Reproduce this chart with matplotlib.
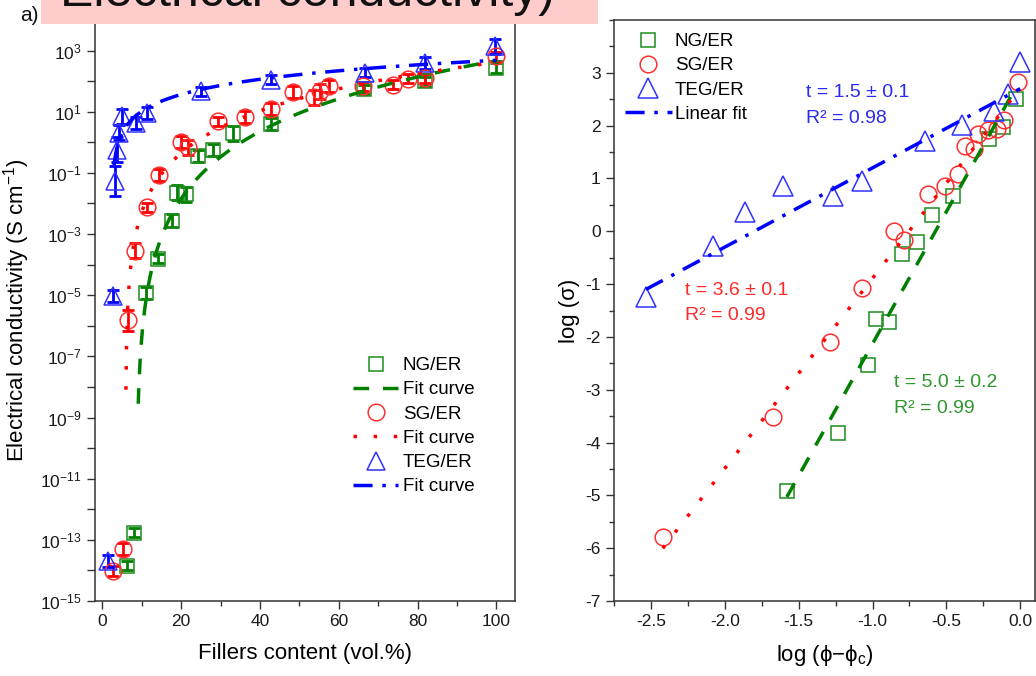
import numpy as np
import matplotlib
matplotlib.use("Agg")
import matplotlib.pyplot as plt
from matplotlib.lines import Line2D
from matplotlib.patches import Rectangle
from matplotlib.ticker import FixedLocator, MultipleLocator, NullFormatter, FuncFormatter

plt.rcParams['font.family'] = ['Liberation Sans', 'DejaVu Sans']
plt.rcParams['mathtext.fontset'] = 'custom'
plt.rcParams['mathtext.rm'] = 'Liberation Sans'
plt.rcParams['mathtext.it'] = 'Liberation Sans:italic'
plt.rcParams['mathtext.bf'] = 'Liberation Sans:bold'
plt.rcParams['axes.unicode_minus'] = False

# ---- Panel a: conductivity vs filler content (log10 of S/cm) ----
ng_phi = [6.2, 8.0, 11.1, 14.2, 17.6, 18.9, 21.2, 24.2, 28.2, 33.1, 42.8, 66.4, 81.8, 100.0]
ng_log_sigma = [-13.85, -12.76, -4.92, -3.81, -2.56, -1.65, -1.70, -0.45, -0.24, 0.29, 0.61, 1.73, 2.00, 2.43]
ng_log_err = [0.15, 0.15, 0.20, 0.15, 0.20, 0.25, 0.25, 0.20, 0.20, 0.25, 0.20, 0.15, 0.15, 0.15]

sg_phi = [2.6, 5.3, 6.6, 8.3, 11.3, 14.4, 19.9, 21.8, 29.3, 36.2, 42.7, 48.3, 53.7,
          55.2, 57.6, 66.2, 73.8, 77.6, 81.8, 100.0]
sg_log_sigma = [-14.02, -13.31, -5.82, -3.54, -2.12, -1.08, 0.02, -0.16, 0.69, 0.83, 1.09,
                1.64, 1.47, 1.67, 1.83, 1.83, 1.89, 2.08, 2.10, 2.81]
sg_log_err = [0.15, 0.20, 0.35, 0.25, 0.15, 0.20, 0.20, 0.25, 0.15, 0.20, 0.20,
              0.20, 0.25, 0.25, 0.20, 0.15, 0.15, 0.15, 0.15, 0.15]

teg_phi = [1.5, 2.6, 3.2, 3.8, 4.3, 5.0, 8.5, 11.4, 25.0, 42.8, 66.6, 81.8, 99.6]
teg_log_sigma = [-13.69, -5.03, -1.27, -0.24, 0.31, 0.85, 0.63, 0.96, 1.67, 2.05, 2.27, 2.60, 3.14]
teg_log_err = [0.20, 0.20, 0.50, 0.40, 0.25, 0.25, 0.20, 0.20, 0.15, 0.15, 0.15, 0.20, 0.25]

# Percolation fits: sigma = 10**a * (phi - phi_c)**t  (phi as volume fraction)
ng_fit = dict(phi_c=0.086, log_s0=2.87, t=5.0, start=0.0052)
sg_fit = dict(phi_c=0.059, log_s0=2.71, t=3.6, start=0.0010)
teg_fit = dict(phi_c=0.025, log_s0=2.70, t=1.5, start=0.0050)

# ---- Panel b: log-log percolation plot ----
ng_logdphi = [-1.582, -1.233, -1.033, -0.976, -0.89, -0.80, -0.697, -0.597, -0.455, -0.21, -0.12, -0.03]
ng_logs = [-4.91, -3.81, -2.53, -1.67, -1.71, -0.43, -0.21, 0.31, 0.66, 1.75, 1.98, 2.50]
sg_logdphi = [-2.42, -1.672, -1.287, -1.073, -0.856, -0.79, -0.625, -0.51, -0.42, -0.375,
              -0.31, -0.284, -0.216, -0.16, -0.11, -0.012]
sg_logs = [-5.79, -3.52, -2.09, -1.07, 0.0, -0.16, 0.71, 0.85, 1.09, 1.62, 1.56, 1.84,
           1.92, 1.94, 2.11, 2.83]
teg_logdphi = [-2.534, -2.08, -1.865, -1.604, -1.27, -1.073, -0.647, -0.391, -0.18, -0.085, 0.0]
teg_logs = [-1.25, -0.27, 0.36, 0.86, 0.66, 0.96, 1.70, 2.02, 2.27, 2.60, 3.20]

# linear fits: log sigma = intercept + t * log(phi - phi_c)
ng_line = dict(t=5.0, b=2.87, x0=-1.58, x1=-0.03)
sg_line = dict(t=3.6, b=2.71, x0=-2.42, x1=-0.012)
teg_line = dict(t=1.5, b=2.70, x0=-2.534, x1=0.0)

GREEN, RED, BLUE = '#008000', '#FF0000', '#0000FF'
MK_GREEN, MK_RED, MK_BLUE = '#1E8C1E', '#FF3030', '#3030FF'
DASH = (0, (4.5, 4.0))
DOT = (0, (1.0, 4.8))
DASHDOT = (0, (5.5, 2.8, 1.0, 2.8))
LW = 2.5

W, H = 1036, 676
fig = plt.figure(figsize=(W / 100, H / 100), dpi=100)
ax1 = fig.add_axes([95 / W, 1 - 601 / H, (515 - 95) / W, (601 - 20) / H])
ax2 = fig.add_axes([614 / W, 1 - 601 / H, (1035 - 614) / W, (601 - 20) / H])

marker_kw = dict(ls='none', mfc='none', mew=1.1)


def draw_series(ax, phi, logs, err, mk, ms, mcol, ecol):
    phi = np.asarray(phi)
    s = 10.0 ** np.asarray(logs)
    e = np.asarray(err)
    lo = s - s * 10.0 ** (-e)
    hi = s * 10.0 ** e - s
    ax.errorbar(phi, s, yerr=[lo, hi], fmt='none', ecolor=ecol, elinewidth=2.0,
                capsize=4, capthick=2.0, zorder=3)
    ax.plot(phi, s, marker=mk, ms=ms, mec=mcol, zorder=4, **marker_kw)


def draw_fit(ax, fit, col, ls):
    phi = np.linspace(fit['phi_c'] + fit['start'], 1.0, 600)
    logs = fit['log_s0'] + fit['t'] * np.log10(phi - fit['phi_c'])
    ax.plot(phi * 100, 10.0 ** logs, color=col, ls=ls, lw=LW, zorder=5)


draw_series(ax1, ng_phi, ng_log_sigma, ng_log_err, 's', 10, MK_GREEN, GREEN)
draw_fit(ax1, ng_fit, GREEN, DASH)
draw_series(ax1, sg_phi, sg_log_sigma, sg_log_err, 'o', 12, MK_RED, RED)
draw_fit(ax1, sg_fit, RED, DOT)
draw_series(ax1, teg_phi, teg_log_sigma, teg_log_err, '^', 13, MK_BLUE, BLUE)
draw_fit(ax1, teg_fit, BLUE, DASHDOT)

ax1.set_yscale('log')
ax1.set_xlim(-1.85, 104.7)
ax1.set_ylim(1e-15, 1e4)
ax1.xaxis.set_major_locator(MultipleLocator(20))
ax1.xaxis.set_minor_locator(MultipleLocator(10))
ax1.yaxis.set_major_locator(FixedLocator([10.0 ** k for k in range(-15, 4, 2)]))
ax1.yaxis.set_minor_locator(FixedLocator([10.0 ** k for k in range(-14, 4, 2)]))
ax1.yaxis.set_minor_formatter(NullFormatter())
ax1.yaxis.set_major_formatter(FuncFormatter(
    lambda v, p: r'$10^{\mathrm{%d}}$' % int(round(np.log10(v)))))
ax1.set_xlabel('Fillers content (vol.%)', fontsize=16, labelpad=10)
ax1.set_ylabel(r'Electrical conductivity (S cm$^{-1}$)', fontsize=16, labelpad=6)

# right panel
ax2.plot(ng_logdphi, ng_logs, marker='s', ms=10, mec=MK_GREEN, zorder=3, **marker_kw)
ax2.plot(sg_logdphi, sg_logs, marker='o', ms=12, mec=MK_RED, zorder=3, **marker_kw)
ax2.plot(teg_logdphi, teg_logs, marker='^', ms=14, mec=MK_BLUE, zorder=3, **marker_kw)
for ln, col, ls in [(ng_line, GREEN, DASH), (sg_line, RED, DOT), (teg_line, BLUE, DASHDOT)]:
    xs = np.array([ln['x0'], ln['x1']])
    ax2.plot(xs, ln['b'] + ln['t'] * xs, color=col, ls=ls, lw=LW, zorder=4)

ax2.set_xlim(-2.75, 0.1)
ax2.set_ylim(-7, 4)
ax2.set_xticks(np.arange(-2.5, 0.01, 0.5))
ax2.xaxis.set_minor_locator(MultipleLocator(0.25))
ax2.set_yticks(np.arange(-7, 4, 1))
ax2.yaxis.set_minor_locator(MultipleLocator(0.5))
ax2.xaxis.set_major_formatter(FuncFormatter(lambda v, p: '%.1f' % v))
ax2.set_xlabel('log (ϕ−ϕ$_{\\mathrm{c}}$)', fontsize=16, labelpad=10)
ax2.set_ylabel('log (σ)', fontsize=16, labelpad=4)

ax2.text(-1.452, 2.62, 't = 1.5 ± 0.1', color='#2A2AF0', fontsize=14, va='center')
ax2.text(-1.452, 2.13, 'R² = 0.98', color='#2A2AF0', fontsize=14, va='center')
ax2.text(-2.27, -1.12, 't = 3.6 ± 0.1', color='#FF2A2A', fontsize=14, va='center')
ax2.text(-2.27, -1.59, 'R² = 0.99', color='#FF2A2A', fontsize=14, va='center')
ax2.text(-0.854, -2.86, 't = 5.0 ± 0.2', color='#2E982E', fontsize=14, va='center')
ax2.text(-0.854, -3.35, 'R² = 0.99', color='#2E982E', fontsize=14, va='center')

for ax in (ax1, ax2):
    for sp in ax.spines.values():
        sp.set_color('#333333')
        sp.set_linewidth(1.1)
    ax.tick_params(which='both', direction='out', colors='#333333', labelcolor='#1a1a1a',
                   labelsize=12.5, width=1.0, top=False, right=False)
    ax.tick_params(which='major', length=6)
    ax.tick_params(which='minor', length=3.5)
ax1.tick_params(axis='y', which='minor', length=6)

# legends
h1 = [
    Line2D([], [], marker='s', ms=10, mec=MK_GREEN, **marker_kw),
    Line2D([], [], color=GREEN, ls=DASH, lw=LW),
    Line2D([], [], marker='o', ms=12, mec=MK_RED, **marker_kw),
    Line2D([], [], color=RED, ls=DOT, lw=LW),
    Line2D([], [], marker='^', ms=13, mec=MK_BLUE, **marker_kw),
    Line2D([], [], color=BLUE, ls=DASHDOT, lw=LW),
]
l1 = ['NG/ER', 'Fit curve', 'SG/ER', 'Fit curve', 'TEG/ER', 'Fit curve']
ax1.legend(h1, l1, loc='upper left', bbox_to_anchor=(353 / W, 1 - 357 / H),
           bbox_transform=fig.transFigure, frameon=False, fontsize=13.5,
           borderpad=0, borderaxespad=0, handlelength=2.4, handletextpad=0.25,
           labelspacing=0.38)

h2 = [
    Line2D([], [], marker='s', ms=10, mec=MK_GREEN, **marker_kw),
    Line2D([], [], marker='o', ms=12, mec=MK_RED, **marker_kw),
    Line2D([], [], marker='^', ms=14, mec=MK_BLUE, **marker_kw),
    Line2D([], [], color=BLUE, ls=DASHDOT, lw=LW),
]
l2 = ['NG/ER', 'SG/ER', 'TEG/ER', 'Linear fit']
ax2.legend(h2, l2, loc='upper left', bbox_to_anchor=(625 / W, 1 - 33 / H),
           bbox_transform=fig.transFigure, frameon=False, fontsize=13.5,
           borderpad=0, borderaxespad=0, handlelength=2.5, handletextpad=0.15,
           labelspacing=0.38)

# header strip
fig.add_artist(Rectangle((41 / W, 1 - 24 / H), (598 - 41) / W, 24 / H,
                         transform=fig.transFigure, facecolor='#FFCCCC',
                         edgecolor='none', zorder=10))
fig.text(60 / W, 1 - 6 / H, 'Electrical conductivity)', fontsize=36, color='#111111',
         ha='left', va='baseline', zorder=11)
fig.text(20 / W, 1 - 21 / H, 'a)', fontsize=15, color='#111111', ha='left',
         va='baseline', zorder=11)

fig.savefig('out.png', dpi=100)
